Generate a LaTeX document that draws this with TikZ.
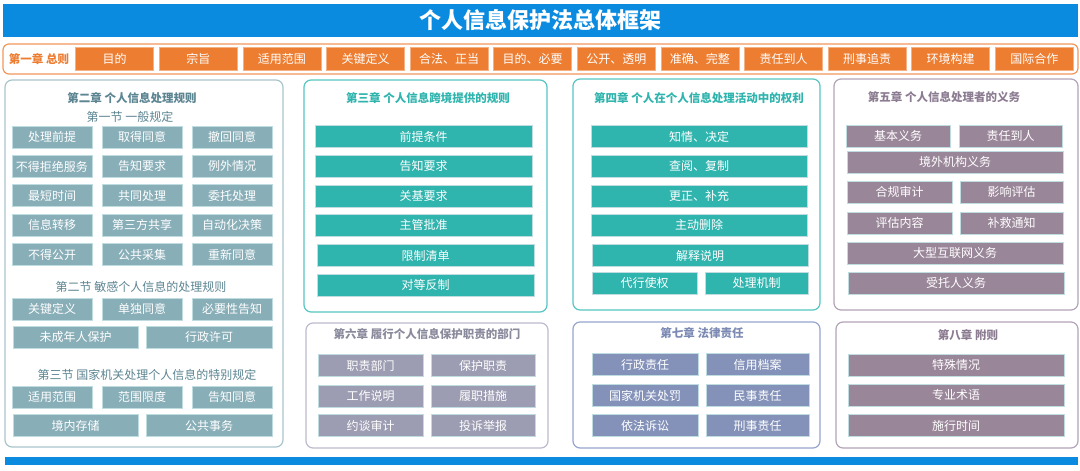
\documentclass[tikz,border=0pt]{standalone}
\usepackage{fontspec}
\setmainfont{Noto Sans CJK SC}
\definecolor{barblue}{HTML}{0A8BE0}
\definecolor{orangebox}{HTML}{ED7D31}
\definecolor{greyteal}{HTML}{88AEB8}
\definecolor{greytealline}{HTML}{A9C5CC}
\definecolor{greytealtext}{HTML}{5C8592}
\definecolor{teal}{HTML}{2FB4AE}
\definecolor{tealline}{HTML}{55C6C1}
\definecolor{mauve}{HTML}{9A8699}
\definecolor{mauveline}{HTML}{B3A4B8}
\definecolor{mauvetext}{HTML}{8C7C92}
\definecolor{lavender}{HTML}{9C9CB2}
\definecolor{lavenderline}{HTML}{BEBACD}
\definecolor{lavendertext}{HTML}{8A8A9D}
\definecolor{bluegrey}{HTML}{8492BA}
\definecolor{bluegreyline}{HTML}{97A5CD}
\definecolor{bluegreytext}{HTML}{7D8BB4}
\definecolor{cellline}{HTML}{BFDDE1}
\tikzset{
  frame/.style={draw=#1,line width=1.2pt,rounded corners=7pt,fill=white},
  cell/.style={fill=#1,draw=cellline,line width=0.8pt,text=white,
    minimum height=22pt,inner sep=0pt,font=\fontsize{12}{12}\selectfont},
  ctitle/.style={text=#1,inner sep=0pt,font=\bfseries\fontsize{11.5}{12}\selectfont},
  stitle/.style={text=#1,inner sep=0pt,font=\fontsize{12}{12}\selectfont}
}
\begin{document}
\begin{tikzpicture}[x=1pt,y=-1pt]
  \useasboundingbox (0,0) rectangle (1080,471);
  % title bar
  \fill[barblue] (3,4) rectangle (1078,37);
  \node[text=white,font=\bfseries\fontsize{22}{22}\selectfont] (title) at (540,20.5) {个人信息保护法总体框架};
  \fill[barblue] (5,457) rectangle (1078,465);
  % chapter 1
  \draw[orangebox!80!white,line width=1.2pt,rounded corners=6pt] (3,44) rectangle (1078,74);
  \node[ctitle=orangebox] (ch1) at (39,59) {第一章 总则};
  \foreach \t [count=\i] in {目的,宗旨,适用范围,关键定义,合法、正当,目的、必要,公开、透明,准确、完整,责任到人,刑事追责,环境构建,国际合作}
    \node[cell=orangebox,draw=orangebox!60!white,minimum width=78pt,minimum height=22.5pt] (c1-\i) at ({114.7+(\i-1)*83.6},58.8) {\t};

  % chapter 2
  \draw[frame=greytealline] (5,80) rectangle (283,447);
  \node[ctitle=greytealtext] (ch2) at (132,98) {第二章 个人信息处理规则};
  \node[stitle=greytealtext] (s21) at (130,117) {第一节 一般规定};
  \foreach \a/\b/\c [count=\r] in {处理前提/取得同意/撤回同意,不得拒绝服务/告知要求/例外情况,最短时间/共同处理/委托处理,信息转移/第三方共享/自动化决策,不得公开/公共采集/重新同意}{
    \node[cell=greyteal,minimum width=80pt] (c2-\r-1) at (52,{137+(\r-1)*29.4}) {\a};
    \node[cell=greyteal,minimum width=80pt] (c2-\r-2) at (142,{137+(\r-1)*29.4}) {\b};
    \node[cell=greyteal,minimum width=80pt] (c2-\r-3) at (232,{137+(\r-1)*29.4}) {\c};
  }
  \node[stitle=greytealtext] (s22) at (141,287) {第二节 敏感个人信息的处理规则};
  \node[cell=greyteal,minimum width=80pt] (c2-6-1) at (52,309) {关键定义};
  \node[cell=greyteal,minimum width=80pt] (c2-6-2) at (142,309) {单独同意};
  \node[cell=greyteal,minimum width=80pt] (c2-6-3) at (232,309) {必要性告知};
  \node[cell=greyteal,minimum width=125pt] (c2-7-1) at (75.5,337) {未成年人保护};
  \node[cell=greyteal,minimum width=126pt] (c2-7-2) at (209,337) {行政许可};
  \node[stitle=greytealtext] (s23) at (147,375) {第三节 国家机关处理个人信息的特别规定};
  \node[cell=greyteal,minimum width=80pt] (c2-8-1) at (52,397) {适用范围};
  \node[cell=greyteal,minimum width=80pt] (c2-8-2) at (142,397) {范围限度};
  \node[cell=greyteal,minimum width=80pt] (c2-8-3) at (232,397) {告知同意};
  \node[cell=greyteal,minimum width=125pt] (c2-9-1) at (75.5,425.5) {境内存储};
  \node[cell=greyteal,minimum width=126pt] (c2-9-2) at (209,425.5) {公共事务};

  % chapter 3
  \draw[frame=tealline] (304,80) rectangle (547,312);
  \node[ctitle=teal] (ch3) at (428,98) {第三章 个人信息跨境提供的规则};
  \foreach \t/\x/\y [count=\i] in {前提条件/423.5/136.5,告知要求/423.5/166,关基要求/423.5/196,主管批准/423.5/225,限制清单/425.5/255.5,对等反制/425.5/285}
    \node[cell=teal,minimum width=217pt] (c3-\i) at (\x,\y) {\t};

  % chapter 4
  \draw[frame=tealline] (573,79) rectangle (820,310);
  \node[ctitle=teal] (ch4) at (699,98) {第四章 个人在个人信息处理活动中的权利};
  \foreach \t/\x/\y [count=\i] in {知情、决定/699/136.5,查阅、复制/699/166,更正、补充/699/196,主动删除/699/225,解释说明/700/255.5}
    \node[cell=teal,minimum width=216pt] (c4-\i) at (\x,\y) {\t};
  \node[cell=teal,minimum width=105pt] (c4-6) at (644.5,283) {代行使权};
  \node[cell=teal,minimum width=103pt] (c4-7) at (756.5,283) {处理机制};

  % chapter 5
  \draw[frame=mauveline] (834,79) rectangle (1078,310);
  \node[ctitle=mauvetext] (ch5) at (944,97) {第五章 个人信息处理者的义务};
  \node[cell=mauve,minimum width=104pt] (c5-1) at (898,136) {基本义务};
  \node[cell=mauve,minimum width=103pt] (c5-2) at (1010.5,136) {责任到人};
  \node[cell=mauve,minimum width=216pt] (c5-3) at (955,162) {境外机构义务};
  \node[cell=mauve,minimum width=105pt] (c5-4) at (899.5,192) {合规审计};
  \node[cell=mauve,minimum width=103pt] (c5-5) at (1011.5,192) {影响评估};
  \node[cell=mauve,minimum width=105pt] (c5-6) at (899.5,223) {评估内容};
  \node[cell=mauve,minimum width=103pt] (c5-7) at (1011.5,223) {补救通知};
  \node[cell=mauve,minimum width=216pt] (c5-8) at (955,253) {大型互联网义务};
  \node[cell=mauve,minimum width=216pt] (c5-9) at (956,283) {受托人义务};

  % chapter 6
  \draw[frame=lavenderline] (306,323) rectangle (548,448);
  \node[ctitle=lavendertext] (ch6) at (427,334) {第六章 履行个人信息保护职责的部门};
  \foreach \a/\b/\y [count=\r] in {职责部门/保护职责/365.5,工作说明/履职措施/396,约谈审计/投诉举报/425.5}{
    \node[cell=lavender,minimum width=105pt] (c6-\r-1) at (370.5,\y) {\a};
    \node[cell=lavender,minimum width=104pt] (c6-\r-2) at (483,\y) {\b};
  }

  % chapter 7
  \draw[frame=bluegreyline] (573,322) rectangle (820,448);
  \node[ctitle=bluegreytext] (ch7) at (702,333) {第七章 法律责任};
  \foreach \a/\b/\y [count=\r] in {行政责任/信用档案/364.5,国家机关处罚/民事责任/395.5,依法诉讼/刑事责任/425.5}{
    \node[cell=bluegrey,minimum width=106pt] (c7-\r-1) at (645,\y) {\a};
    \node[cell=bluegrey,minimum width=103pt] (c7-\r-2) at (757.5,\y) {\b};
  }

  % chapter 8
  \draw[frame=mauveline] (836,322) rectangle (1078,448);
  \node[ctitle=mauvetext] (ch8) at (968,335) {第八章 附则};
  \foreach \t/\y [count=\i] in {特殊情况/365,专业术语/395,施行时间/425.5}
    \node[cell=mauve,minimum width=216pt] (c8-\i) at (956,\y) {\t};
\end{tikzpicture}
\end{document}
